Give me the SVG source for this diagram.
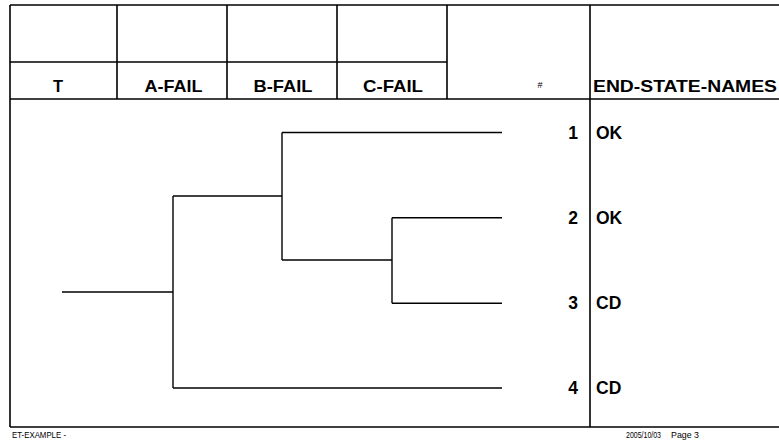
<svg xmlns="http://www.w3.org/2000/svg" width="779" height="441" viewBox="0 0 779 441">
<style>
.frame{stroke:#000;stroke-width:1.6;fill:none}
.br{stroke:#000;stroke-width:1.4;fill:none}
.hdr{font-family:"Liberation Sans",Arial,sans-serif;font-weight:bold;font-size:16.5px;fill:#000;text-anchor:middle}
.num{font-family:"Liberation Sans",Arial,sans-serif;font-weight:bold;font-size:17.5px;fill:#000;text-anchor:end}
.es{font-family:"Liberation Sans",Arial,sans-serif;font-weight:bold;font-size:17.5px;fill:#000}
.ft{font-family:"Liberation Sans",Arial,sans-serif;font-size:8.5px;fill:#000}
</style>
<rect width="779" height="441" fill="#fff"/>
<g id="frame" class="frame">
<line x1="10" y1="5" x2="779" y2="5"/>
<line x1="10" y1="5" x2="10" y2="427"/>
<line x1="10" y1="427" x2="779" y2="427"/>
<line x1="10" y1="99" x2="779" y2="99"/>
<line x1="10" y1="62" x2="447" y2="62"/>
<line x1="117" y1="5" x2="117" y2="99"/>
<line x1="227" y1="5" x2="227" y2="99"/>
<line x1="337" y1="5" x2="337" y2="99"/>
<line x1="447" y1="5" x2="447" y2="99"/>
<line x1="590" y1="5" x2="590" y2="427"/>
</g>
<g id="header-T"><text class="hdr" x="58" y="92.3">T</text></g>
<g id="header-A-FAIL"><text class="hdr" x="173.5" y="92.3" textLength="58" lengthAdjust="spacingAndGlyphs">A-FAIL</text></g>
<g id="header-B-FAIL"><text class="hdr" x="283" y="92.3" textLength="59" lengthAdjust="spacingAndGlyphs">B-FAIL</text></g>
<g id="header-C-FAIL"><text class="hdr" x="393" y="92.3" textLength="60" lengthAdjust="spacingAndGlyphs">C-FAIL</text></g>
<g id="header-num"><text x="540" y="87.5" font-family="Liberation Sans, Arial, sans-serif" font-size="9" text-anchor="middle">#</text></g>
<g id="header-names"><text class="hdr" x="685" y="92.3" textLength="184" lengthAdjust="spacingAndGlyphs">END-STATE-NAMES</text></g>
<g id="connectors" class="br">
<line x1="62" y1="292" x2="173" y2="292"/>
<line x1="173" y1="196" x2="173" y2="388"/>
<line x1="173" y1="196" x2="282" y2="196"/>
<line x1="282" y1="132.5" x2="282" y2="260"/>
<line x1="282" y1="132.5" x2="502" y2="132.5"/>
<line x1="282" y1="260" x2="392" y2="260"/>
<line x1="392" y1="217.7" x2="392" y2="303.3"/>
<line x1="392" y1="217.7" x2="502" y2="217.7"/>
<line x1="392" y1="303.3" x2="502" y2="303.3"/>
<line x1="173" y1="388" x2="502" y2="388"/>
</g>
<g id="seq1"><text class="num" x="578" y="138.5">1</text><text class="es" x="596" y="138.5">OK</text></g>
<g id="seq2"><text class="num" x="578" y="223.5">2</text><text class="es" x="596" y="223.5">OK</text></g>
<g id="seq3"><text class="num" x="578" y="309">3</text><text class="es" x="596" y="309">CD</text></g>
<g id="seq4"><text class="num" x="578" y="393.5">4</text><text class="es" x="596" y="393.5">CD</text></g>
<g id="footer">
<text class="ft" x="12" y="437.5" textLength="54" lengthAdjust="spacingAndGlyphs">ET-EXAMPLE -</text>
<text class="ft" x="626" y="437.5" textLength="35" lengthAdjust="spacingAndGlyphs">2005/10/03</text>
<text class="ft" x="671" y="437.5" textLength="28" lengthAdjust="spacingAndGlyphs">Page 3</text>
</g>
</svg>
